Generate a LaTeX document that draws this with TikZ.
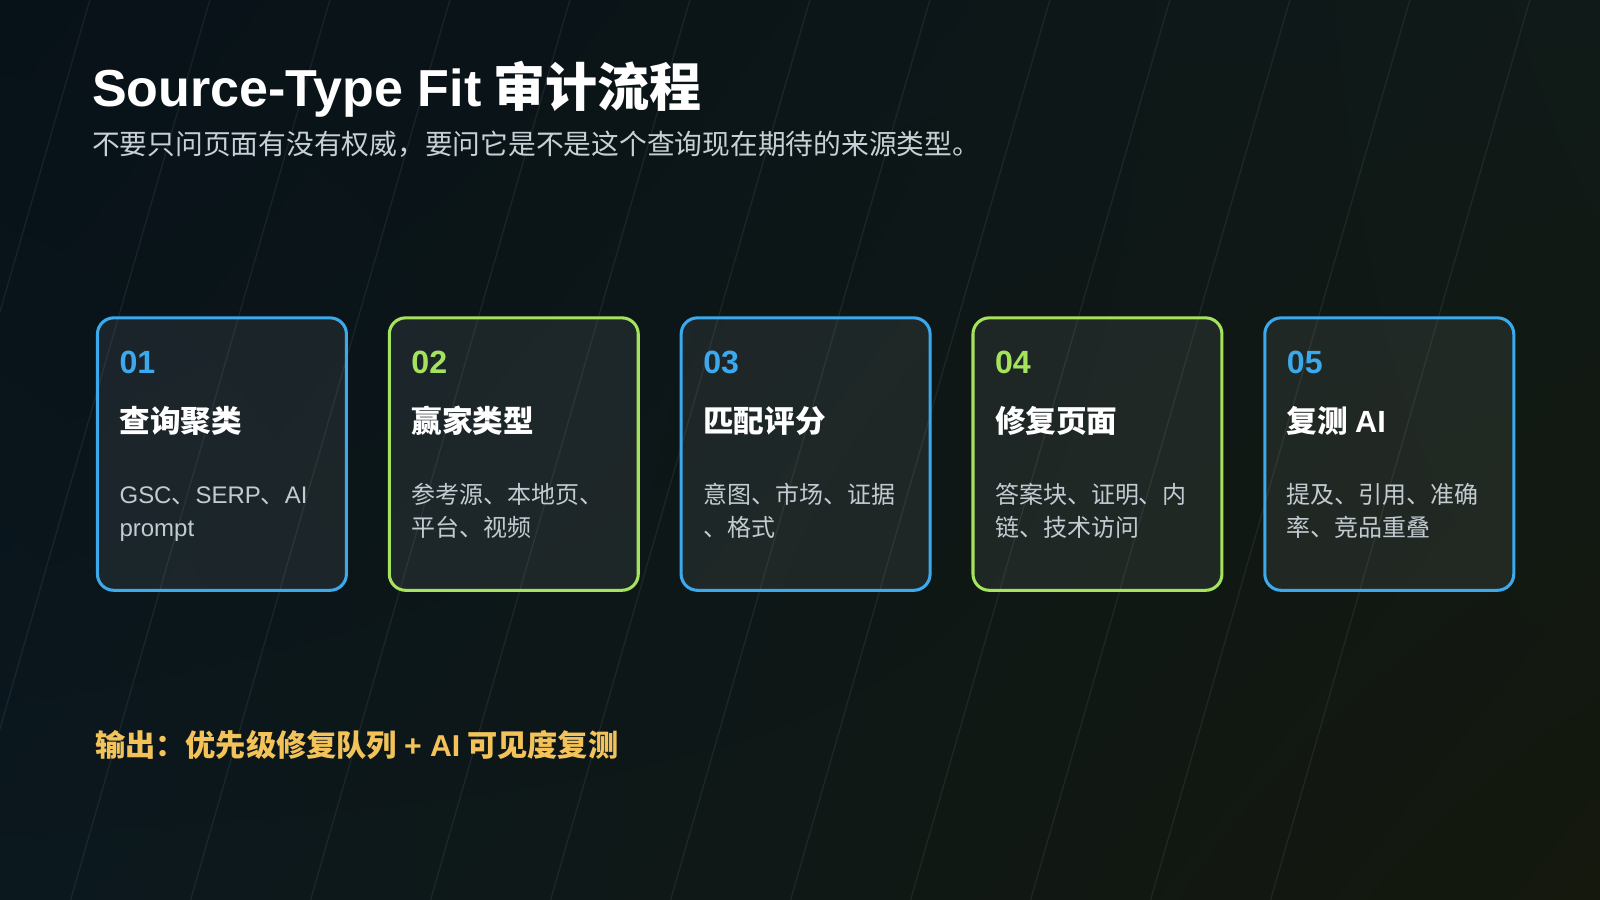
\documentclass[tikz,border=0pt]{standalone}
\usepackage{fontspec}
\usetikzlibrary{shadings}
\setmainfont{Noto Sans CJK SC}
\newfontfamily\lat{Liberation Sans}
\definecolor{bgA}{HTML}{071118}
\definecolor{bgB}{HTML}{101A18}
\definecolor{bgC}{HTML}{0B181E}
\definecolor{bgD}{HTML}{14180D}
\definecolor{cblue}{HTML}{3BA9EC}
\definecolor{cgreen}{HTML}{A6E35C}
\definecolor{descgrey}{HTML}{C2CBD1}
\definecolor{subgrey}{HTML}{C8D0D6}
\definecolor{gold}{HTML}{F3C35A}
\tikzset{
  bgline/.style={white, opacity=0.065, line width=1.3pt},
  card/.style={draw=#1, line width=3pt, rounded corners=16pt, fill=white, fill opacity=0.07,
    minimum width=244pt, minimum height=267pt, anchor=north west, inner sep=0pt},
  num/.style={anchor=base west, inner sep=0pt, text=#1, font=\fontsize{31.5}{36}\selectfont\bfseries\lat},
  ctitle/.style={anchor=base west, inner sep=0pt, text=white, font=\fontsize{30}{36}\selectfont\bfseries},
  desc/.style={anchor=base west, inner sep=0pt, text=descgrey, align=left, font=\fontsize{23.5}{33}\selectfont}
}
\begin{document}
\begin{tikzpicture}[x=1pt,y=-1pt]
\useasboundingbox (0,0) rectangle (1568,882);
\shade[upper left=bgA, upper right=bgB, lower left=bgC, lower right=bgD] (0,0) rectangle (1568,882);
\foreach \k in {0,...,12} \draw[bgline] ({88+117.6*\k},0) -- ({88+117.6*\k-254},882);

\node[anchor=base west, inner sep=0pt, text=white, font=\fontsize{51}{60}\selectfont\bfseries] (title) at (90,104) {{\lat Source-Type Fit} 审计流程};
\node[anchor=base west, inner sep=0pt, text=subgrey, font=\fontsize{27.2}{32}\selectfont] (sub) at (90,151) {不要只问页面有没有权威，要问它是不是这个查询现在期待的来源类型。};

\node[card=cblue]  (c1) at (94,310) {};
\node[card=cgreen] (c2) at (380,310) {};
\node[card=cblue]  (c3) at (666,310) {};
\node[card=cgreen] (c4) at (952,310) {};
\node[card=cblue]  (c5) at (1238,310) {};

\node[num=cblue]  (n1) at (117,366) {01};
\node[num=cgreen] (n2) at (403,366) {02};
\node[num=cblue]  (n3) at (689,366) {03};
\node[num=cgreen] (n4) at (975,366) {04};
\node[num=cblue]  (n5) at (1261,366) {05};

\node[ctitle] (t1) at (117,424) {查询聚类};
\node[ctitle] (t2) at (403,424) {赢家类型};
\node[ctitle] (t3) at (689,424) {匹配评分};
\node[ctitle] (t4) at (975,424) {修复页面};
\node[ctitle] (t5) at (1261,424) {复测 {\lat AI}};

\node[desc] (d1) at (117,526) {{\lat GSC}、{\lat SERP}、{\lat AI}\\{\lat prompt}};
\node[desc] (d2) at (403,526) {参考源、本地页、\\平台、视频};
\node[desc] (d3) at (689,526) {意图、市场、证据\\、格式};
\node[desc] (d4) at (975,526) {答案块、证明、内\\链、技术访问};
\node[desc] (d5) at (1261,526) {提及、引用、准确\\率、竞品重叠};

\node[anchor=base west, inner sep=0pt, text=gold, font=\fontsize{29.6}{34}\selectfont\bfseries] (out) at (93,741) {输出：优先级修复队列 {\lat + AI} 可见度复测};
\end{tikzpicture}
\end{document}
